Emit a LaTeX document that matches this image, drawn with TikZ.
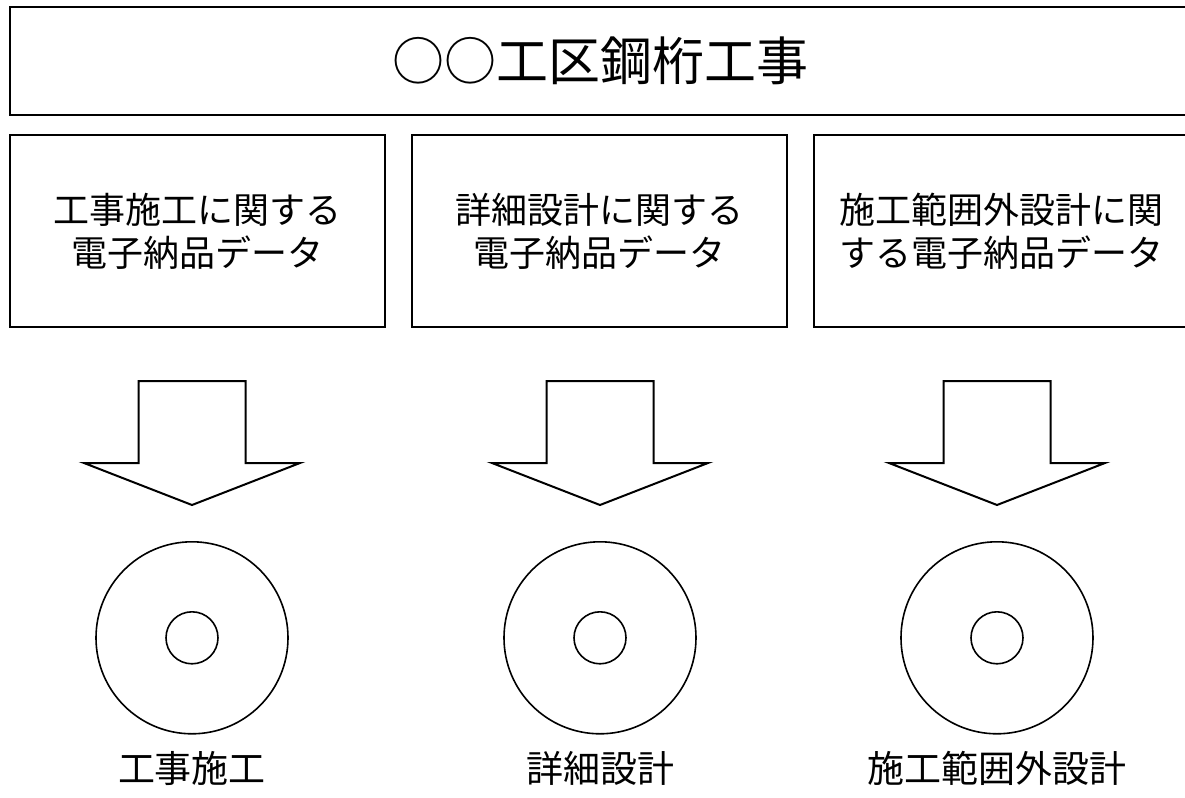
\documentclass[tikz,border=0pt]{standalone}
\usepackage{fontspec}
\setmainfont{Noto Sans CJK JP}
\usetikzlibrary{positioning}

\begin{document}
\begin{tikzpicture}[x=0.5pt, y=-0.5pt,
        every node/.style = {draw, line width=1pt, inner sep=0pt},
        headbox/.style = {minimum width=590pt, minimum height=54pt, font=\fontsize{26pt}{30pt}\selectfont},
        databox/.style = {minimum width=187.5pt, minimum height=96pt, align=center, font=\fontsize{18pt}{21.5pt}\selectfont},
        disc/.style = {circle, minimum size=96pt, line width=0.8pt},
        hole/.style = {circle, minimum size=26pt, line width=0.8pt},
        caption/.style = {draw=none, font=\fontsize{18.5pt}{22pt}\selectfont},
        blockarrow/.pic = {
                \draw[line width=1pt] (-53.5,0) -- (53.5,0) -- (53.5,82) -- (108,82) -- (0,124) -- (-108,82) -- (-53.5,82) -- cycle;
                \coordinate (-tip) at (0,124);}]
        \useasboundingbox[fill=white] (0,0) rectangle (1185,798);
        \clip (0,0) rectangle (1185,798);

        \node[headbox](head) at (600,61) {○○工区鋼桁工事};
        \node[databox](b1)[below right = 9pt and 0pt of head.south west]{工事施工に関する\\電子納品データ};
        \node[databox](b2)[right = 12.5pt of b1]{詳細設計に関する\\電子納品データ};
        \node[databox](b3)[right = 12.5pt of b2]{施工範囲外設計に関\\する電子納品データ};

        \pic (ar1) at (192,381) {blockarrow};
        \pic (ar2) at (600,381) {blockarrow};
        \pic (ar3) at (997,381) {blockarrow};

        \node[disc](d1)[below = 18pt of ar1-tip]{};
        \node[disc](d2)[below = 18pt of ar2-tip]{};
        \node[disc](d3)[below = 18pt of ar3-tip]{};
        \node[hole](h1) at (d1) {};
        \node[hole](h2) at (d2) {};
        \node[hole](h3) at (d3) {};

        \node[caption](c1)[below = 8pt of d1]{工事施工};
        \node[caption](c2)[below = 8pt of d2]{詳細設計};
        \node[caption](c3)[below = 8pt of d3]{施工範囲外設計};
    \end{tikzpicture}
\end{document}
